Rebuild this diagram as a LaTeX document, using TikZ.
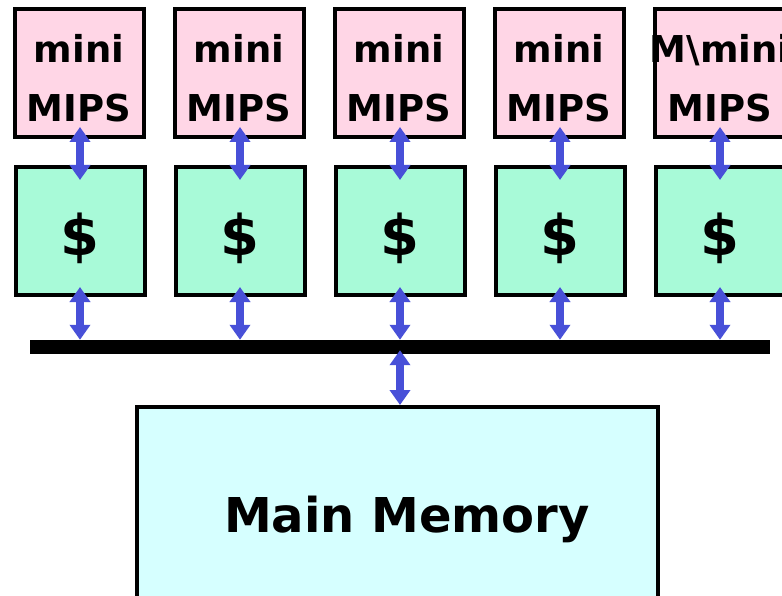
\documentclass[tikz,border=0pt]{standalone}
\usepackage{fontspec}
\setmainfont{DejaVu Sans}
\usetikzlibrary{arrows.meta}
\definecolor{cpupink}{RGB}{255,214,230}
\definecolor{cachegreen}{RGB}{168,250,216}
\definecolor{memcyan}{RGB}{214,255,255}
\definecolor{linkblue}{RGB}{72,80,216}
\tikzset{
  cpubox/.style={draw=black, line width=4pt, fill=cpupink, minimum width=129pt, minimum height=128pt, inner sep=0pt},
  cachebox/.style={draw=black, line width=4pt, fill=cachegreen, minimum width=129pt, minimum height=128pt, inner sep=0pt},
  membox/.style={draw=black, line width=4pt, fill=memcyan, minimum width=521pt, minimum height=240pt, inner sep=0pt},
  cputext/.style={font=\bfseries\fontsize{37}{44}\selectfont, inner sep=0pt, anchor=base},
  cashtext/.style={font=\bfseries\fontsize{56}{60}\selectfont, inner sep=0pt},
  link/.style={draw=linkblue, line width=8pt, {Triangle[width=20pt,length=15pt]}-{Triangle[width=20pt,length=15pt]}},
}
\begin{document}
\begin{tikzpicture}[x=1pt, y=-1pt]
\useasboundingbox (0,0) rectangle (782,596);
\clip (0,0) rectangle (782,596);
\fill[white] (0,0) rectangle (782,596);

% system bus
\node[fill=black, minimum width=740pt, minimum height=14pt, inner sep=0pt] (bus) at (400,347) {};

% main memory
\node[membox, anchor=north west] (mem) at (135,405) {};
\node[font=\bfseries\fontsize{48}{56}\selectfont, inner sep=0pt, anchor=base] (memtext) at (407,532) {Main Memory};

% processors with private caches
\foreach \i/\x in {1/79, 2/239, 3/399, 4/559, 5/719} {
  \node[cpubox] (p\i) at (\x,73) {};
  \node[cachebox] (c\i) at (\x+1,231) {};
  \node[cashtext] (d\i) at (\x+1,238) {\$};
}
\foreach \i/\x in {1/79, 2/239, 3/399, 4/559} {
  \node[cputext] (m\i) at (\x,63) {mini};
  \node[cputext] (s\i) at (\x,122) {MIPS};
}
\node[cputext] (m5) at (720,63) {M\textbackslash mini};
\node[cputext] (s5) at (720,122) {MIPS};

% links: cpu <-> cache <-> bus
\foreach \i/\x in {1/80, 2/240, 3/400, 4/560, 5/720} {
  \draw[link, shorten <=-12pt, shorten >=-15pt] (p\i.south -| \x,0) -- (c\i.north -| \x,0);
  \draw[link, shorten <=-10pt] (c\i.south -| \x,0) -- (bus.north -| \x,0);
}
% link: bus <-> memory
\draw[link, shorten <=-4pt] (bus.south -| 400,0) -- (mem.north -| 400,0);
\end{tikzpicture}
\end{document}
